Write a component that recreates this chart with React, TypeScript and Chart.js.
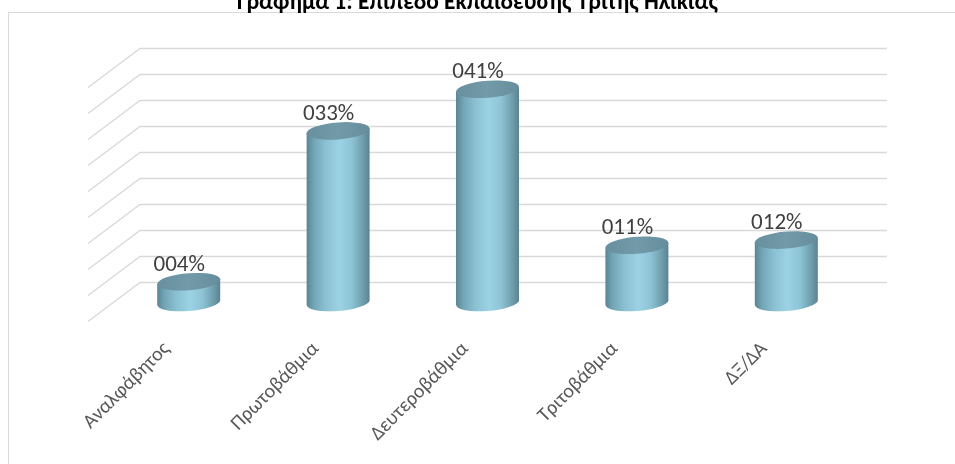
import { useEffect, useRef } from "react";
import { Chart, registerables } from "chart.js";

Chart.register(...registerables);

const TITLE = "Γράφημα 1: Επίπεδο Εκπαίδευσης Τρίτης Ηλικίας";
const categories = ["Αναλφάβητος", "Πρωτοβάθμια", "Δευτεροβάθμια", "Τριτοβάθμια", "ΔΞ/ΔΑ"];
const values = [4, 33, 41, 11, 12];
const valueLabels = ["004%", "033%", "041%", "011%", "012%"];
const Y_MIN = 0;
const Y_MAX = 45;
const Y_STEP = 5;

const FONT = "Carlito, Calibri, Lato, sans-serif";
const GRID = "#d9d9d9";
const DX = 26; // depth offset (half depth)
const DY_BACK = 20;
const DY_FRONT = 19;
const RX = 31.5;
const RY = 8.5;
const SHEAR = 0.075;

const cylPlugin = {
  id: "cyl3d",
  beforeDraw(chart: any) {
    const ctx = chart.ctx as CanvasRenderingContext2D;
    const W = chart.width;
    const H = chart.height;
    ctx.save();
    ctx.fillStyle = "#ffffff";
    ctx.fillRect(0, 0, W, H);
    // outer border
    ctx.strokeStyle = GRID;
    ctx.lineWidth = 1;
    ctx.strokeRect(8.5, 12.5, W, H + 10);
    // title
    ctx.fillStyle = "#000000";
    ctx.font = `bold 19px ${FONT}`;
    const w0 = ctx.measureText(TITLE).width;
    const size = (19 * 481) / w0;
    ctx.font = `bold ${size.toFixed(2)}px ${FONT}`;
    ctx.textAlign = "center";
    ctx.textBaseline = "alphabetic";
    ctx.fillText(TITLE, W / 2, 8.5);
    // gridlines (side wall + back wall)
    const ys = chart.scales.y;
    const { left, right } = chart.chartArea;
    ctx.strokeStyle = GRID;
    ctx.lineWidth = 1.3;
    ctx.beginPath();
    for (const t of ys.ticks) {
      const y = ys.getPixelForValue(t.value);
      ctx.moveTo(left - DX, y + DY_FRONT);
      ctx.lineTo(left + DX, y - DY_BACK);
      ctx.lineTo(right + DX, y - DY_BACK);
    }
    ctx.stroke();
    ctx.restore();
  },
  afterDatasetsDraw(chart: any) {
    const ctx = chart.ctx as CanvasRenderingContext2D;
    const meta = chart.getDatasetMeta(0);
    meta.data.forEach((el: any, i: number) => {
      const cx = el.x;
      const top = el.y;
      const base = el.base;
      ctx.save();
      ctx.transform(1, -SHEAR, 0, 1, cx, 0);
      const g = ctx.createLinearGradient(-RX, 0, RX, 0);
      g.addColorStop(0, "#5a8595");
      g.addColorStop(0.12, "#73a6b7");
      g.addColorStop(0.3, "#8ac0d2");
      g.addColorStop(0.52, "#9bd2e4");
      g.addColorStop(0.72, "#8dc3d5");
      g.addColorStop(0.9, "#6e9cab");
      g.addColorStop(1, "#5a8391");
      // body
      ctx.beginPath();
      ctx.moveTo(-RX, top);
      ctx.lineTo(-RX, base);
      ctx.ellipse(0, base, RX, RY, 0, Math.PI, 0, true);
      ctx.lineTo(RX, top);
      ctx.closePath();
      ctx.fillStyle = g;
      ctx.fill();
      // top cap
      const tg = ctx.createLinearGradient(-RX, 0, RX, 0);
      tg.addColorStop(0, "#678f9d");
      tg.addColorStop(0.5, "#729aa8");
      tg.addColorStop(1, "#668d9b");
      ctx.beginPath();
      ctx.ellipse(0, top, RX, RY, 0, 0, Math.PI * 2);
      ctx.fillStyle = tg;
      ctx.fill();
      ctx.restore();
      // value label
      ctx.save();
      ctx.fillStyle = "#404040";
      ctx.font = `23px ${FONT}`;
      ctx.textAlign = "center";
      ctx.textBaseline = "alphabetic";
      ctx.fillText(valueLabels[i], cx - 9.5, top - 11);
      ctx.restore();
    });
  },
};

export default function App() {
  const ref = useRef<HTMLCanvasElement | null>(null);
  useEffect(() => {
    if (!ref.current) return;
    const chart = new Chart(ref.current, {
      type: "bar",
      data: {
        labels: categories,
        datasets: [
          {
            data: values,
            backgroundColor: "rgba(0,0,0,0)",
            borderWidth: 0,
          },
        ],
      },
      options: {
        animation: false,
        responsive: false,
        maintainAspectRatio: false,
        layout: { padding: { left: 114, right: 94, top: 68.5, bottom: 0 } },
        plugins: {
          legend: { display: false },
          title: { display: false },
          tooltip: { enabled: false },
        },
        scales: {
          x: {
            grid: { display: false, drawTicks: false },
            border: { display: false },
            ticks: {
              autoSkip: false,
              minRotation: 45,
              maxRotation: 45,
              padding: 35,
              labelOffset: -22,
              color: "#595959",
              font: { family: FONT, size: 20 },
            },
            afterFit: (s: any) => {
              s.height = 464 - 302.5;
            },
          },
          y: {
            display: false,
            min: Y_MIN,
            max: Y_MAX,
            ticks: { stepSize: Y_STEP },
          },
        },
      },
      plugins: [cylPlugin],
    } as any);
    return () => chart.destroy();
  }, []);
  return (
    <div style={{ position: "fixed", left: 0, top: 0, width: 955, height: 464 }}>
      <canvas ref={ref} width={955} height={464} style={{ display: "block", width: 955, height: 464 }} />
    </div>
  );
}
